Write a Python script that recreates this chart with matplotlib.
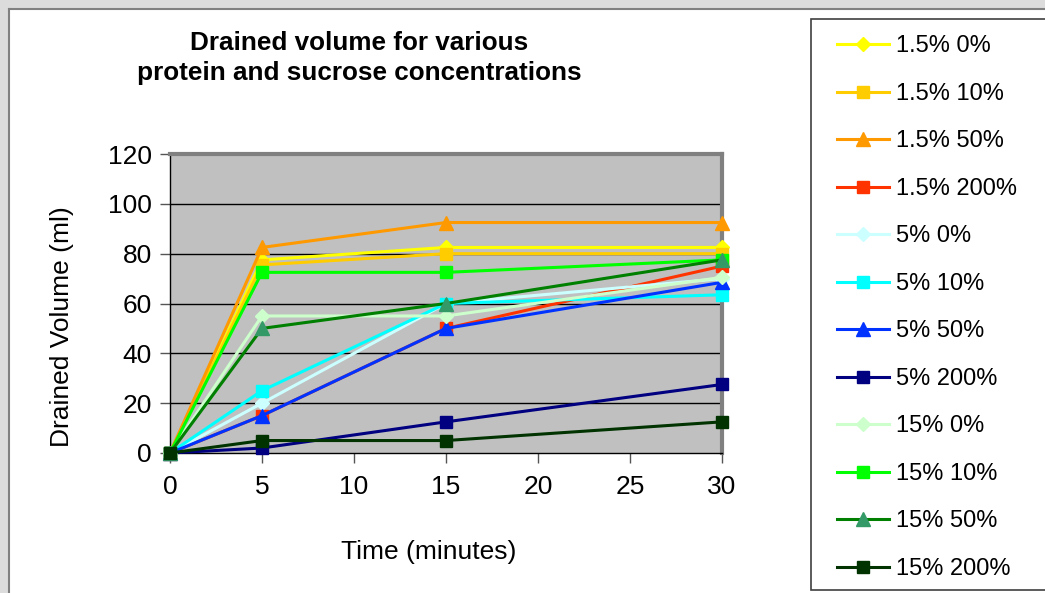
import matplotlib
matplotlib.use("Agg")
import matplotlib.pyplot as plt
from matplotlib.patches import Rectangle
from matplotlib.lines import Line2D

plt.rcParams['font.family'] = ['Liberation Sans', 'DejaVu Sans']

time_min = [0, 5, 15, 30]
series_labels = ["1.5% 0%", "1.5% 10%", "1.5% 50%", "1.5% 200%",
                 "5% 0%", "5% 10%", "5% 50%", "5% 200%",
                 "15% 0%", "15% 10%", "15% 50%", "15% 200%"]
v_15_0 = [0, 77.5, 82.5, 82.5]
v_15_10 = [0, 75.5, 80, 80]
v_15_50 = [0, 82.5, 92.5, 92.5]
v_15_200 = [0, 15, 50, 75]
v_5_0 = [0, 20, 60, 70]
v_5_10 = [0, 25, 60, 63.5]
v_5_50 = [0, 15, 50, 68.5]
v_5_200 = [0, 2, 12.5, 27.5]
v_15p_0 = [0, 55, 55, 70.5]
v_15p_10 = [0, 72.5, 72.5, 77.5]
v_15p_50 = [0, 50, 60, 77.5]
v_15p_200 = [0, 5, 5, 12.5]
series_values = [v_15_0, v_15_10, v_15_50, v_15_200, v_5_0, v_5_10, v_5_50,
                 v_5_200, v_15p_0, v_15p_10, v_15p_50, v_15p_200]

line_colors = ["#FFFF00", "#FFCC00", "#FF9900", "#FF3300",
               "#CCFFFF", "#00FFFF", "#0033FF", "#000080",
               "#CCFFCC", "#00FF00", "#008000", "#003300"]
marker_colors = ["#FFFF00", "#FFCC00", "#FF9900", "#FF3300",
                 "#CCFFFF", "#00FFFF", "#0033FF", "#000080",
                 "#CCFFCC", "#00FF00", "#339966", "#003300"]
markers = ["D", "s", "^", "s", "D", "s", "^", "s", "D", "s", "^", "s"]
msizes = [7, 9, 10, 9, 7, 9, 10, 9, 7, 9, 10, 9]

W, H = 1045, 593
fig = plt.figure(figsize=(W / 100, H / 100), dpi=100)
fig.patch.set_facecolor("white")

# outer grey frame
fig.add_artist(Rectangle((0, 1 - 8 / H), 1, 8 / H, transform=fig.transFigure,
                         facecolor="#DCDCDC", edgecolor="none", zorder=0))
fig.add_artist(Rectangle((0, 0), 8 / W, 1, transform=fig.transFigure,
                         facecolor="#DCDCDC", edgecolor="none", zorder=0))
fig.add_artist(Line2D([8.5 / W, 1], [1 - 8.5 / H, 1 - 8.5 / H], transform=fig.transFigure,
                      color="#808080", lw=1.5))
fig.add_artist(Line2D([8.5 / W, 8.5 / W], [0, 1 - 8.5 / H], transform=fig.transFigure,
                      color="#808080", lw=1.5))

ax = fig.add_axes([170 / W, 1 - 453 / H, (722 - 170) / W, (453 - 154) / H])
ax.set_facecolor("#C0C0C0")

for vals, lc, mc, mk, ms in zip(series_values, line_colors, marker_colors, markers, msizes):
    ax.plot(time_min, vals, color=lc, lw=2.2, marker=mk, markersize=ms,
            markerfacecolor=mc, markeredgecolor=mc, clip_on=False, zorder=3)

ax.set_xlim(0, 30)
ax.set_ylim(0, 120)
ax.set_xticks([0, 5, 10, 15, 20, 25, 30])
ax.set_yticks([0, 20, 40, 60, 80, 100, 120])
for y in [20, 40, 60, 80, 100]:
    ax.axhline(y, color="black", lw=1, zorder=1)

ax.spines['left'].set_color("black")
ax.spines['bottom'].set_color("black")
ax.spines['top'].set_color("#808080")
ax.spines['right'].set_color("#808080")
ax.spines['top'].set_linewidth(3)
ax.spines['right'].set_linewidth(3)
ax.spines['left'].set_linewidth(1)
ax.spines['bottom'].set_linewidth(1)
ax.tick_params(axis='both', labelsize=19, length=7, width=1, color="#555555")
ax.tick_params(axis='y', pad=6)
ax.tick_params(axis='x', pad=9)

ax.set_xlabel("Time (minutes)", fontsize=19)
ax.set_ylabel("Drained Volume (ml)", fontsize=19)
ax.xaxis.set_label_coords((429 - 170) / 552, (453 - 552) / 299)
ax.xaxis.label.set_va("center")
ax.yaxis.set_label_coords((62 - 170) / 552, (453 - 327) / 299)
ax.yaxis.label.set_va("center")
ax.yaxis.label.set_ha("center")

fig.text(359 / W, 1 - 58 / H, "Drained volume for various\nprotein and sucrose concentrations",
         ha="center", va="center", fontsize=18.8, fontweight="bold", linespacing=1.27)

# legend box
fig.add_artist(Rectangle((811 / W, 1 - 590 / H), (W + 10 - 811) / W, (590 - 19) / H,
                         transform=fig.transFigure, facecolor="white",
                         edgecolor="#404040", lw=1.2, zorder=1))
handles = [Line2D([], [], color=lc, lw=2.2, marker=mk, markersize=ms,
                  markerfacecolor=mc, markeredgecolor=mc)
           for lc, mc, mk, ms in zip(line_colors, marker_colors, markers, msizes)]
fig.legend(handles, series_labels, loc="upper left",
           bbox_to_anchor=(828 / W, 1 - 26 / H), frameon=False, fontsize=17,
           handlelength=2.2, handletextpad=0.3, labelspacing=1.08, borderaxespad=0)

fig.savefig("out.png", dpi=100)
